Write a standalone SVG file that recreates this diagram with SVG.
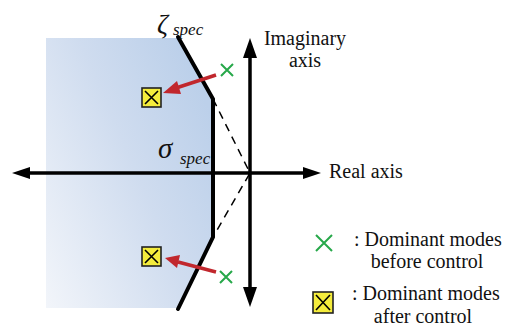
<svg xmlns="http://www.w3.org/2000/svg" width="508" height="329" viewBox="0 0 508 329">
<defs>
<linearGradient id="bg" x1="0" y1="1" x2="1" y2="0.3">
<stop offset="0" stop-color="#f2f5fa"/>
<stop offset="0.6" stop-color="#cfdcef"/>
<stop offset="1" stop-color="#bcd0ea"/>
</linearGradient>
<g id="gx"><path d="M-6,-6 L6,6 M6,-6 L-6,6" stroke="#27a84a" stroke-width="2" fill="none"/></g>
</defs>
<style>
.t{font-family:"Liberation Serif","Times New Roman",serif;font-size:20px;fill:#111}
.g{font-family:"Liberation Serif","Times New Roman",serif;font-style:italic;fill:#111}
.ax{stroke:#000;stroke-width:3.5;fill:none}
.bd{stroke:#000;stroke-width:4;fill:none;stroke-linecap:round}
.ds{stroke:#000;stroke-width:1.5;stroke-dasharray:8,6;fill:none}
.sq{fill:#f4ec3c;stroke:#222;stroke-width:1.6}
.sqx{stroke:#000;stroke-width:1.6}
.ra{stroke:#c1272d;stroke-width:3.5;fill:none}
</style>
<g id="region">
<path d="M46,38 L177,38 L213,99 L213,237 L178,308 L46,308 Z" fill="url(#bg)"/>
</g>
<g id="connectors">
<path class="ds" d="M213,99 L250,173 L213,237"/>
<path class="bd" d="M178,37 L213,99 L213,237 L178,309"/>
<line class="ax" x1="28" y1="173" x2="304" y2="173"/>
<path d="M12,173 L30,167 L30,179 Z" fill="#000"/>
<path d="M321,173 L303,167 L303,179 Z" fill="#000"/>
<line class="ax" x1="250" y1="56" x2="250" y2="290"/>
<path d="M250,38 L243,58 L257,58 Z" fill="#000"/>
<path d="M250,307 L243,287 L257,287 Z" fill="#000"/>
<line class="ra" x1="216" y1="75" x2="176" y2="88"/>
<path d="M163,93 L177,81 L181,94 Z" fill="#c1272d"/>
<line class="ra" x1="216" y1="272" x2="178" y2="262"/>
<path d="M165,258 L180,255 L177,268 Z" fill="#c1272d"/>
</g>
<g id="mode-before-top"><use href="#gx" x="227" y="70"/></g>
<g id="mode-before-bottom"><use href="#gx" x="226" y="277"/></g>
<g id="mode-after-top">
<rect class="sq" x="142" y="88" width="19" height="19"/>
<path class="sqx" d="M145,91 L158,104 M158,91 L145,104"/>
</g>
<g id="mode-after-bottom">
<rect class="sq" x="142" y="247" width="19" height="19"/>
<path class="sqx" d="M145,250 L158,263 M158,250 L145,263"/>
</g>
<g id="zeta-label">
<text class="g" x="157" y="33" font-size="27">ζ</text>
<text class="g" x="173" y="35" font-size="17">spec</text>
</g>
<g id="sigma-label">
<text class="g" x="158" y="158" font-size="29">σ</text>
<text class="g" x="180" y="164" font-size="17">spec</text>
</g>
<g id="imag-label">
<text class="t" x="305" y="45" text-anchor="middle">Imaginary</text>
<text class="t" x="305" y="67" text-anchor="middle">axis</text>
</g>
<g id="real-label">
<text class="t" x="329" y="178">Real axis</text>
</g>
<g id="legend-before">
<path d="M316,235 L332,251 M332,235 L316,251" stroke="#27a84a" stroke-width="2" fill="none"/>
<text class="t" x="354" y="246">: Dominant modes</text>
<text class="t" x="427" y="268" text-anchor="middle">before control</text>
</g>
<g id="legend-after">
<rect class="sq" x="313" y="292" width="20" height="21"/>
<path class="sqx" d="M316,295 L330,310 M330,295 L316,310"/>
<text class="t" x="352" y="300">: Dominant modes</text>
<text class="t" x="423" y="323" text-anchor="middle">after control</text>
</g>
</svg>
